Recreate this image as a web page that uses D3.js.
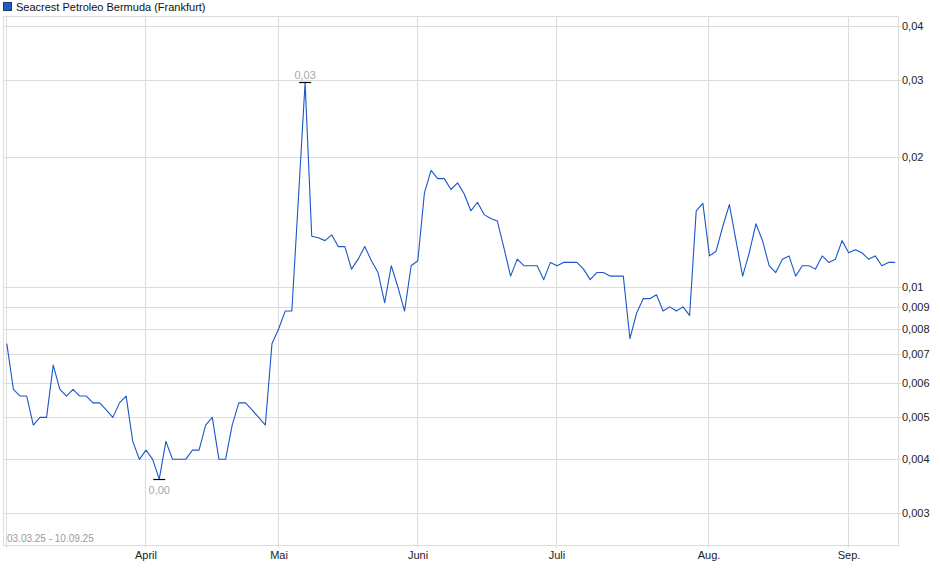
<!DOCTYPE html>
<html>
<head>
<meta charset="utf-8">
<script src="https://cdn.jsdelivr.net/npm/d3@7"></script>
<style>
  body { margin: 0; background: #fff; }
  text { font-family: "Liberation Sans", Arial, sans-serif; }
</style>
</head>
<body>
<svg id="chart"></svg>
<script>
// series name and date range
const seriesName = "Seacrest Petroleo Bermuda (Frankfurt)";
const rangeLabel = "03.03.25 - 10.09.25";
const startDate = "2025-03-03";
const endDate = "2025-09-10";
const holidays = ["2025-04-18", "2025-04-21", "2025-05-01"];

// daily closes, one per trading day
const values = [
  0.0074, 0.0058, 0.0056, 0.0056, 0.0048, 0.0050, 0.0050, 0.0066, 0.0058, 0.0056,
  0.0058, 0.0056, 0.0056, 0.0054, 0.0054, 0.0052, 0.0050, 0.0054, 0.0056, 0.0044,
  0.0040, 0.0042, 0.0040, 0.0036, 0.0044, 0.0040, 0.0040, 0.0040, 0.0042, 0.0042,
  0.0048, 0.0050, 0.0040, 0.0040, 0.0048, 0.0054, 0.0054, 0.0052, 0.0050, 0.0048,
  0.0074, 0.0080, 0.0088, 0.0088, 0.0161, 0.0297, 0.0131, 0.0130, 0.0128, 0.0132,
  0.0124, 0.0124, 0.0110, 0.0116, 0.0124, 0.0115, 0.0108, 0.0092, 0.0112, 0.0100,
  0.0088, 0.0112, 0.0115, 0.0165, 0.0186, 0.0178, 0.0178, 0.0168, 0.0174, 0.0164,
  0.0150, 0.0157, 0.0147, 0.0144, 0.0142, 0.0123, 0.0106, 0.0116, 0.0112, 0.0112,
  0.0112, 0.0104, 0.0114, 0.0112, 0.0114, 0.0114, 0.0114, 0.0110, 0.0104, 0.0108,
  0.0108, 0.0106, 0.0106, 0.0106, 0.0076, 0.0087, 0.0094, 0.0094, 0.0096, 0.0088,
  0.0090, 0.0088, 0.0090, 0.0086, 0.0150, 0.0156, 0.0118, 0.0121, 0.0138, 0.0155,
  0.0128, 0.0106, 0.0120, 0.0140, 0.0128, 0.0112, 0.0108, 0.0116, 0.0118, 0.0106,
  0.0112, 0.0112, 0.0110, 0.0118, 0.0114, 0.0116, 0.0128, 0.0120, 0.0122, 0.0120,
  0.0116, 0.0118, 0.0112, 0.0114, 0.0114
];

// y axis ticks (log scale) and labels
const yTicks = [0.003, 0.004, 0.005, 0.006, 0.007, 0.008, 0.009, 0.01, 0.02, 0.03, 0.04];
const yTickLabels = ["0,003", "0,004", "0,005", "0,006", "0,007", "0,008", "0,009", "0,01", "0,02", "0,03", "0,04"];

// month labels (index = month number 0..11)
const monthLabels = ["Jan.", "Feb.", "März", "April", "Mai", "Juni", "Juli", "Aug.", "Sep.", "Okt.", "Nov.", "Dez."];

const svgWidth = 940, svgHeight = 579;
const plot = { left: 3, right: 898, top: 16, bottom: 545 };

//TRADING DAYS
const fmtDay = d3.timeFormat("%Y-%m-%d");
const parseDay = d3.timeParse("%Y-%m-%d");
const dates = d3.timeDay
  .range(parseDay(startDate), d3.timeDay.offset(parseDay(endDate), 1))
  .filter(d => d.getDay() !== 0 && d.getDay() !== 6 && holidays.indexOf(fmtDay(d)) < 0);
const data = values.map((v, i) => ({ i: i, date: dates[i], v: v }));

// first trading day of each month
const monthStarts = data.filter((d, k) => k === 0 || d.date.getMonth() !== data[k - 1].date.getMonth());

const svg = d3.select("#chart")
  .attr("width", svgWidth)
  .attr("height", svgHeight);

//SCALES
const x = d3.scaleLinear().domain([0, values.length - 1]).range([6.8, 895.1]);
const y = d3.scaleLog().domain([0.003, 0.04]).range([513.4, 26.4]);

//GRIDLINES
svg.append("g")
  .selectAll("line")
  .data(yTicks)
  .enter()
  .append("line")
  .attr("x1", plot.left)
  .attr("x2", plot.right + 3)
  .attr("y1", d => Math.round(y(d)) + 0.5)
  .attr("y2", d => Math.round(y(d)) + 0.5)
  .attr("stroke", "#dcdcdc");

svg.append("g")
  .selectAll("line")
  .data(monthStarts)
  .enter()
  .append("line")
  .attr("x1", d => Math.round(x(d.i)) - 0.5)
  .attr("x2", d => Math.round(x(d.i)) - 0.5)
  .attr("y1", plot.top)
  .attr("y2", plot.bottom + 3)
  .attr("stroke", "#dcdcdc");

//FRAME
svg.append("rect")
  .attr("x", plot.left + 0.5)
  .attr("y", plot.top + 0.5)
  .attr("width", plot.right - plot.left)
  .attr("height", plot.bottom - plot.top)
  .attr("fill", "none")
  .attr("stroke", "#dcdcdc");

//AXIS LABELS
svg.append("g")
  .selectAll("text")
  .data(yTicks)
  .enter()
  .append("text")
  .attr("x", plot.right + 4)
  .attr("y", d => y(d) + 4)
  .style("font-size", "11px")
  .style("fill", "#222")
  .text((d, k) => yTickLabels[k]);

svg.append("g")
  .selectAll("text")
  .data(monthStarts.filter(d => d.i > 0))
  .enter()
  .append("text")
  .attr("x", d => Math.round(x(d.i)))
  .attr("y", plot.bottom + 14)
  .attr("text-anchor", "middle")
  .style("font-size", "11px")
  .style("fill", "#222")
  .text(d => monthLabels[d.date.getMonth()]);

svg.append("text")
  .attr("x", 7)
  .attr("y", plot.bottom - 3)
  .style("font-size", "10px")
  .style("fill", "#9a9a9a")
  .text(rangeLabel);

//LINE
const line = d3.line()
  .x(d => x(d.i))
  .y(d => y(d.v));

svg.append("path")
  .datum(data)
  .attr("fill", "none")
  .attr("stroke", "#1a57c8")
  .attr("stroke-width", 1.1)
  .attr("stroke-linejoin", "round")
  .attr("d", line);

//HIGH / LOW MARKERS
const fmtVal = v => d3.format(".2f")(v).replace(".", ",");
const hi = data[d3.maxIndex(data, d => d.v)];
const lo = data[d3.minIndex(data, d => d.v)];

[hi, lo].forEach(d => {
  const yy = Math.round(y(d.v)) + 0.5;
  svg.append("line")
    .attr("x1", x(d.i) - 6)
    .attr("x2", x(d.i) + 6)
    .attr("y1", yy)
    .attr("y2", yy)
    .attr("stroke", "#000")
    .attr("stroke-width", 1.2);
  svg.append("text")
    .attr("x", x(d.i))
    .attr("y", d === hi ? yy - 4 : yy + 14)
    .attr("text-anchor", "middle")
    .style("font-size", "11px")
    .style("fill", "#a3a8b0")
    .text(fmtVal(d.v));
});

//LEGEND
svg.append("rect")
  .attr("x", 3.5)
  .attr("y", 2.5)
  .attr("width", 8)
  .attr("height", 8)
  .attr("fill", "#1f5cc4")
  .attr("stroke", "#1a3a78");
svg.append("text")
  .attr("x", 16)
  .attr("y", 10.5)
  .style("font-size", "11px")
  .style("fill", "#111")
  .text(seriesName);
</script>
</body>
</html>
